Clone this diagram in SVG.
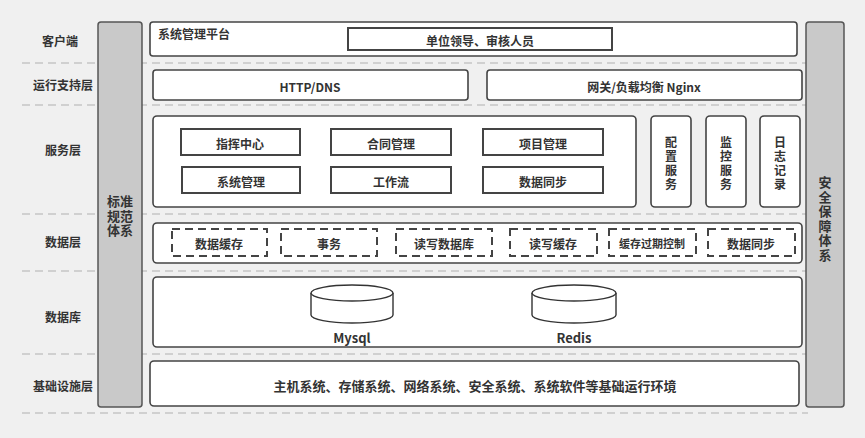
<svg xmlns="http://www.w3.org/2000/svg" width="865" height="438" viewBox="0 0 865 438">
<defs>
<style>
text{font-family:"Noto Sans CJK SC","Liberation Sans",sans-serif;font-size:12px;font-weight:bold;fill:#333;text-anchor:middle;dominant-baseline:central}
.box{fill:#fff;stroke:#444;stroke-width:1.6}
.inner{fill:#fff;stroke:#444;stroke-width:2}
.dash{fill:#fff;stroke:#444;stroke-width:2;stroke-dasharray:8 5}
.bar{fill:#c9c9c9;stroke:#555;stroke-width:1.5}
.sep{stroke:#b0b0b0;stroke-width:1.2;stroke-dasharray:8 5;fill:none}
.cyl{fill:#fff;stroke:#333;stroke-width:1.4}
.big{font-size:13px}
text.v{font-family:"Liberation Sans","Noto Sans CJK SC",sans-serif}
</style>
</defs>
<rect width="865" height="438" fill="#f0f0f0"/>
<g id="separators">
<line class="sep" x1="22" y1="63" x2="808" y2="63"/>
<line class="sep" x1="22" y1="105" x2="808" y2="105"/>
<line class="sep" x1="22" y1="214" x2="808" y2="214"/>
<line class="sep" x1="22" y1="271" x2="808" y2="271"/>
<line class="sep" x1="22" y1="354" x2="808" y2="354"/>
<line class="sep" x1="22" y1="413" x2="808" y2="413"/>
</g>
<g id="layer-labels">
<text x="60" y="40">客户端</text>
<text x="63" y="84">运行支持层</text>
<text x="63" y="149">服务层</text>
<text x="63" y="241">数据层</text>
<text x="63" y="316">数据库</text>
<text x="63" y="385">基础设施层</text>
</g>
<g id="standards">
<rect class="bar" x="98" y="22" width="44" height="385" rx="3"/>
<text class="big v"><tspan x="120" y="201">标准</tspan><tspan x="120" dy="14.6">规范</tspan><tspan x="120" dy="14.6">体系</tspan></text>
</g>
<g id="security">
<rect class="bar" x="806" y="22" width="38" height="385" rx="3"/>
<text class="big v"><tspan x="825" y="182">安</tspan><tspan x="825" dy="14.6">全</tspan><tspan x="825" dy="14.6">保</tspan><tspan x="825" dy="14.6">障</tspan><tspan x="825" dy="14.6">体</tspan><tspan x="825" dy="14.6">系</tspan></text>
</g>
<g id="client">
<rect class="box" x="150" y="22" width="647" height="34" rx="3"/>
<text x="158" y="33" style="text-anchor:start">系统管理平台</text>
<rect class="inner" x="348" y="28" width="264" height="22"/>
<text x="480" y="40">单位领导、审核人员</text>
</g>
<g id="http">
<rect class="box" x="153" y="70" width="315" height="30" rx="3"/>
<text x="310" y="86">HTTP/DNS</text>
</g>
<g id="nginx">
<rect class="box" x="487" y="70" width="315" height="30" rx="3"/>
<text x="644" y="86">网关/负载均衡 Nginx</text>
</g>
<g id="services">
<rect class="box" x="153" y="116" width="483" height="91" rx="4"/>
<rect class="inner" x="181" y="129" width="119" height="26"/>
<text x="240" y="143">指挥中心</text>
<rect class="inner" x="331" y="129" width="120" height="26"/>
<text x="391" y="143">合同管理</text>
<rect class="inner" x="483" y="129" width="120" height="26"/>
<text x="543" y="143">项目管理</text>
<rect class="inner" x="182" y="167" width="118" height="26"/>
<text x="241" y="181">系统管理</text>
<rect class="inner" x="331" y="167" width="120" height="26"/>
<text x="391" y="181">工作流</text>
<rect class="inner" x="483" y="167" width="120" height="26"/>
<text x="543" y="181">数据同步</text>
</g>
<g id="config">
<rect class="box" x="651" y="116" width="40" height="91" rx="4"/>
<text class="v"><tspan x="671" y="143">配</tspan><tspan x="671" dy="14">置</tspan><tspan x="671" dy="14">服</tspan><tspan x="671" dy="14">务</tspan></text>
</g>
<g id="monitor">
<rect class="box" x="706" y="116" width="40" height="91" rx="4"/>
<text class="v"><tspan x="726" y="143">监</tspan><tspan x="726" dy="14">控</tspan><tspan x="726" dy="14">服</tspan><tspan x="726" dy="14">务</tspan></text>
</g>
<g id="log">
<rect class="box" x="760" y="116" width="40" height="91" rx="4"/>
<text class="v"><tspan x="780" y="143">日</tspan><tspan x="780" dy="14">志</tspan><tspan x="780" dy="14">记</tspan><tspan x="780" dy="14">录</tspan></text>
</g>
<g id="data">
<rect class="box" x="153" y="223" width="649" height="40" rx="4"/>
<rect class="dash" x="172" y="229" width="95" height="27"/>
<text x="219" y="243">数据缓存</text>
<rect class="dash" x="281" y="229" width="96" height="27"/>
<text x="329" y="243">事务</text>
<rect class="dash" x="396" y="229" width="96" height="27"/>
<text x="444" y="243">读写数据库</text>
<rect class="dash" x="510" y="229" width="87" height="27"/>
<text x="553" y="243">读写缓存</text>
<rect class="dash" x="609" y="229" width="87" height="27"/>
<text x="652" y="243" style="font-size:11px">缓存过期控制</text>
<rect class="dash" x="708" y="229" width="87" height="27"/>
<text x="751" y="243">数据同步</text>
</g>
<g id="database">
<rect class="box" x="153" y="277" width="649" height="70" rx="4"/>
<path class="cyl" d="M311,293 V315 A41,8 0 0 0 393,315 V293"/>
<ellipse class="cyl" cx="352" cy="293" rx="41" ry="8"/>
<text x="352" y="337" class="big">Mysql</text>
<path class="cyl" d="M532,293 V315 A42,8 0 0 0 616,315 V293"/>
<ellipse class="cyl" cx="574" cy="293" rx="42" ry="8"/>
<text x="574" y="337" class="big">Redis</text>
</g>
<g id="infra">
<rect class="box" x="150" y="361" width="649" height="45" rx="4"/>
<text x="475" y="385" class="big">主机系统、存储系统、网络系统、安全系统、系统软件等基础运行环境</text>
</g>
</svg>
